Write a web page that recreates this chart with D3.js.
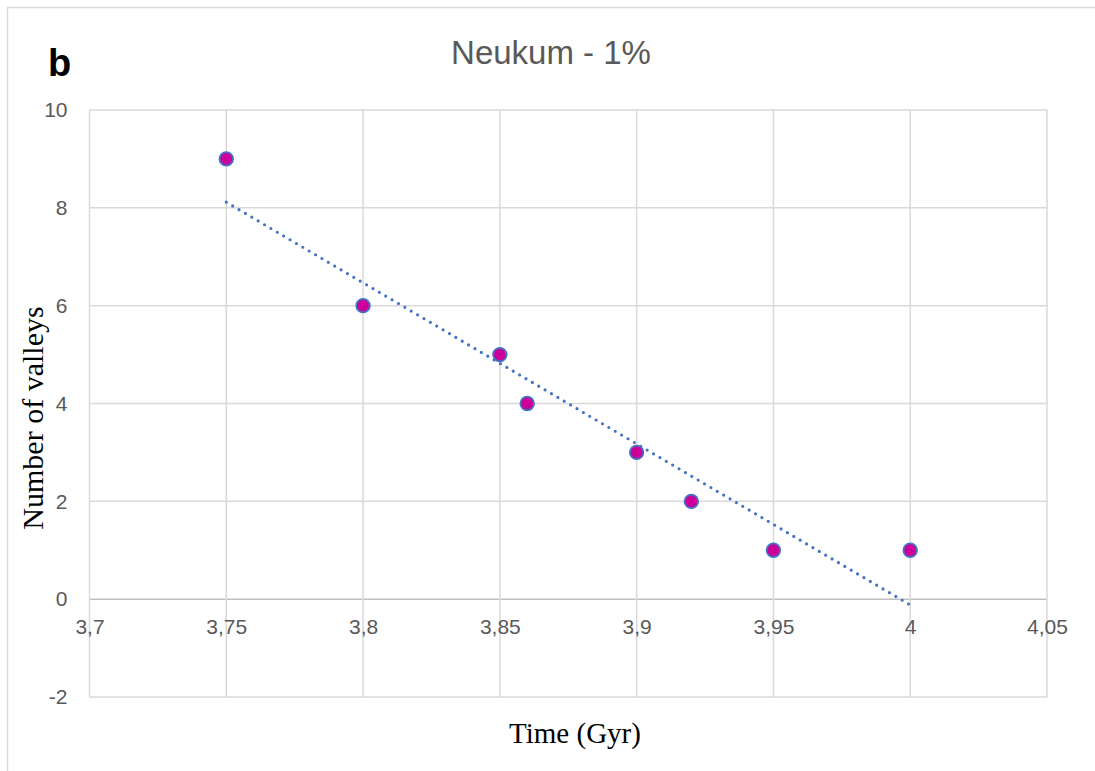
<!DOCTYPE html>
<html>
<head>
<meta charset="utf-8">
<script src="https://cdn.jsdelivr.net/npm/d3@7"></script>
<style>
  html, body { margin: 0; padding: 0; background: #fff; }
  svg { display: block; }
</style>
</head>
<body>
<svg id="chart" width="1095" height="771"></svg>
<script>
// Observations: crater-count age (Gyr) vs. number of valleys
const times   = [3.75, 3.80, 3.85, 3.86, 3.90, 3.92, 3.95, 4.00];
const valleys = [9, 6, 5, 4, 3, 2, 1, 1];

// Axis ticks
const xTicks = [3.70, 3.75, 3.80, 3.85, 3.90, 3.95, 4.00, 4.05];
const xTickLabels = ["3,7", "3,75", "3,8", "3,85", "3,9", "3,95", "4", "4,05"];
const yTicks = [-2, 0, 2, 4, 6, 8, 10];
const yTickLabels = ["-2", "0", "2", "4", "6", "8", "10"];

const svg = d3.select("#chart");
const plot = { left: 89.5, right: 1047, top: 110, bottom: 697 };

const x = d3.scaleLinear().domain([3.70, 4.05]).range([plot.left, plot.right]);
const y = d3.scaleLinear().domain([-2, 10]).range([plot.bottom, plot.top]);

// Chart frame
svg.append("path")
  .attr("d", "M7.5,771 V7.5 H1095")
  .attr("fill", "none")
  .attr("stroke", "#d9d9d9")
  .attr("stroke-width", 1.5);

// Gridlines
const grid = svg.append("g");
grid.selectAll("line.h").data(yTicks).join("line")
  .attr("x1", plot.left).attr("x2", plot.right)
  .attr("y1", d => y(d)).attr("y2", d => y(d))
  .attr("stroke", d => d === 0 ? "#bfbfbf" : "#d9d9d9")
  .attr("stroke-width", 1.5);
grid.selectAll("line.v").data(xTicks).join("line")
  .attr("y1", plot.top).attr("y2", plot.bottom)
  .attr("x1", d => x(d)).attr("x2", d => x(d))
  .attr("stroke", "#d9d9d9")
  .attr("stroke-width", 1.5);

// Y axis labels
const yAxis = d3.axisLeft(y).tickValues(yTicks)
  .tickFormat((d, i) => yTickLabels[i]).tickSize(0).tickPadding(22);
svg.append("g")
  .attr("transform", `translate(${plot.left},0)`)
  .call(yAxis)
  .call(g => g.select(".domain").remove())
  .selectAll("text")
  .attr("font-family", "Liberation Sans, Arial, sans-serif")
  .attr("font-size", 21)
  .attr("fill", "#595959");

// X axis labels, hung below the zero line
const xAxis = d3.axisBottom(x).tickValues(xTicks)
  .tickFormat((d, i) => xTickLabels[i]).tickSize(0).tickPadding(20);
svg.append("g")
  .attr("transform", `translate(0,${y(0)})`)
  .call(xAxis)
  .call(g => g.select(".domain").remove())
  .selectAll("text")
  .attr("font-family", "Liberation Sans, Arial, sans-serif")
  .attr("font-size", 21)
  .attr("fill", "#595959");

// Linear trendline (least squares fit)
const mx = d3.mean(times), my = d3.mean(valleys);
const sxy = d3.sum(times, (t, i) => (t - mx) * (valleys[i] - my));
const sxx = d3.sum(times, t => (t - mx) * (t - mx));
const slope = sxy / sxx, intercept = my - slope * mx;
const xExt = d3.extent(times);
svg.append("line")
  .attr("x1", x(xExt[0])).attr("y1", y(slope * xExt[0] + intercept))
  .attr("x2", x(xExt[1])).attr("y2", y(slope * xExt[1] + intercept))
  .attr("stroke", "#4472c4")
  .attr("stroke-width", 3.2)
  .attr("stroke-linecap", "round")
  .attr("stroke-dasharray", "0 7.4");

// Points
svg.append("g").selectAll("circle")
  .data(times.map((t, i) => [t, valleys[i]]))
  .join("circle")
  .attr("cx", d => x(d[0]))
  .attr("cy", d => y(d[1]))
  .attr("r", 6.8)
  .attr("fill", "#cc0099")
  .attr("stroke", "#4472c4")
  .attr("stroke-width", 1.8);

// Title
svg.append("text")
  .attr("x", 551).attr("y", 64)
  .attr("text-anchor", "middle")
  .attr("font-family", "Liberation Sans, Arial, sans-serif")
  .attr("font-size", 33)
  .attr("fill", "#595959")
  .text("Neukum - 1%");

// Panel letter
svg.append("text")
  .attr("x", 48).attr("y", 76)
  .attr("font-family", "Liberation Sans, Arial, sans-serif")
  .attr("font-weight", "bold")
  .attr("font-size", 38)
  .attr("fill", "#000")
  .text("b");

// Axis titles
svg.append("text")
  .attr("x", 575).attr("y", 743)
  .attr("text-anchor", "middle")
  .attr("font-family", "Liberation Serif, Times New Roman, serif")
  .attr("font-size", 29)
  .attr("fill", "#000")
  .text("Time (Gyr)");

svg.append("text")
  .attr("transform", "translate(43,418) rotate(-90)")
  .attr("text-anchor", "middle")
  .attr("font-family", "Liberation Serif, Times New Roman, serif")
  .attr("font-size", 30)
  .attr("fill", "#000")
  .text("Number of valleys");
</script>
</body>
</html>
